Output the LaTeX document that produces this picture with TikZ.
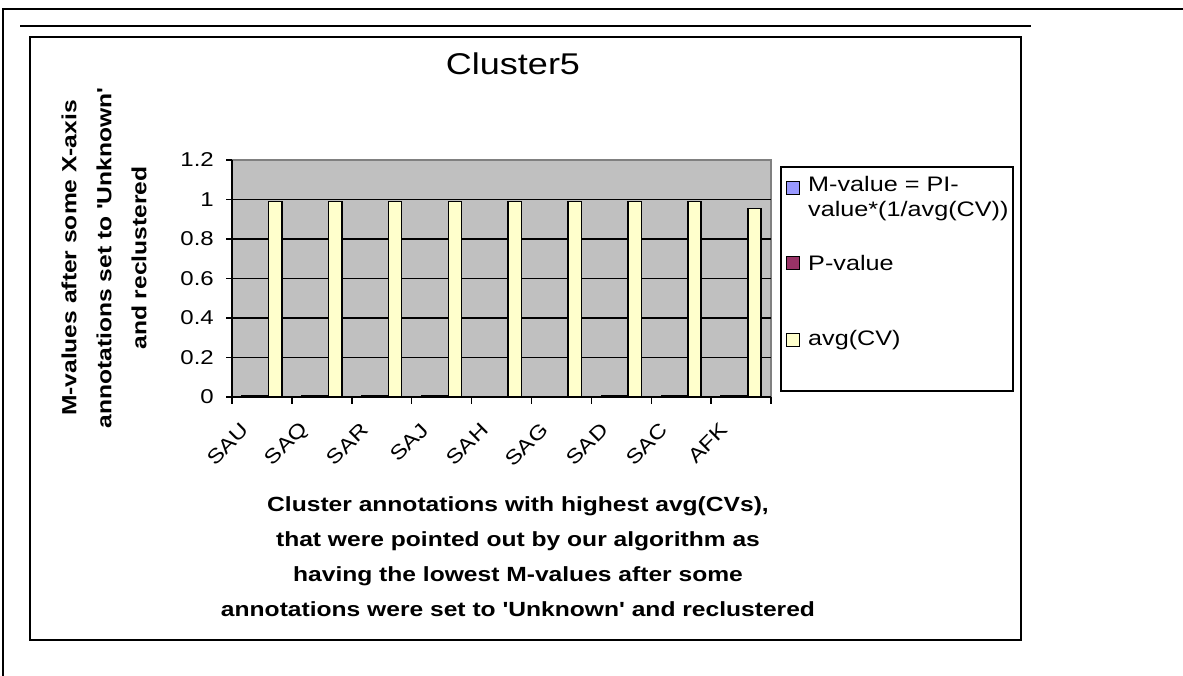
\documentclass[tikz,border=0pt]{standalone}
\usepackage{fontspec}
\newfontfamily\xlfont[FakeStretch=1.2]{Liberation Sans}
\definecolor{mblue}{HTML}{9999FF}
\definecolor{pplum}{HTML}{993366}
\definecolor{cvyellow}{HTML}{FFFFCC}
\definecolor{wallgray}{HTML}{C0C0C0}
\definecolor{edgegray}{HTML}{808080}
\tikzset{
  axtitle/.style={font=\xlfont\fontsize{20.5}{35}\selectfont\bfseries,align=center,inner sep=0pt},
  legtext/.style={font=\xlfont\fontsize{21}{25}\selectfont,anchor=west,align=left,inner sep=0pt},
  legkey/.style={draw=black,line width=1pt,minimum size=13pt,inner sep=0pt},
  colbar/.style={draw=black,line width=1.5pt},
}
\begin{document}
\begin{tikzpicture}[x=1pt,y=-1pt,every node/.style={font=\xlfont\fontsize{20}{24}\selectfont}]
\useasboundingbox (0,0) rectangle (1183,676);
% page rules and chart frame
\draw[line width=2pt] (3,676) -- (3,9) -- (1183,9);
\draw[line width=2pt] (20,26) -- (1031,26);
\draw[line width=2pt] (30,37) rectangle (1021,640);
\node (title) at (513,64) {\fontsize{30}{34}\selectfont Cluster5};
\begin{scope}[shift={(232,397)},x=59.9pt,y=197.5pt]
\fill[wallgray] (0,0) rectangle (9,1.2);
\draw[edgegray,line width=1.5pt] (0,1.2) -- (9,1.2) -- (9,0);
\foreach \v/\t in {0/0,0.2/0.2,0.4/0.4,0.6/0.6,0.8/0.8,1/1,1.2/1.2} {
  \draw[line width=1.5pt] (-0.1,\v) -- (0,\v);
  \node[anchor=east,inner sep=0pt] (ytick\t) at (-0.3,\v) {\t};
}
\foreach \v in {0,0.2,0.4,0.6,0.8,1} \draw[line width=1.5pt] (0,\v) -- (9,\v);
\draw[line width=1.5pt] (0,0) -- (0,1.2);
\foreach \i in {0,...,9} \draw[line width=1.5pt] (\i,0) -- (\i,-0.035);
% three series per category
\foreach \i/\m/\p/\c/\lab in {0/0.005/0.005/0.99/SAU,1/0.005/0.005/0.99/SAQ,2/0.005/0.005/0.99/SAR,
    3/0.005/0.005/0.99/SAJ,4/0/0/0.99/SAH,5/0/0/0.99/SAG,6/0.005/0.005/0.99/SAD,
    7/0.005/0.005/0.99/SAC,8/0.005/0.005/0.955/AFK} {
  \ifdim\m pt>0pt \draw[colbar,fill=mblue] (\i+0.1667,0) rectangle ++(0.2222,\m);\fi
  \ifdim\p pt>0pt \draw[colbar,fill=pplum] (\i+0.3889,0) rectangle ++(0.2222,\p);\fi
  \draw[colbar,fill=cvyellow] (\i+0.6111,0) rectangle ++(0.2222,\c);
  \node[rotate=45,anchor=east,inner sep=0pt] (cat\lab) at (\i+0.22,-0.15) {\lab};
}
\end{scope}
\node[axtitle,rotate=90] (ylab) at (104,258) {M-values after some X-axis\\annotations set to 'Unknown'\\and reclustered};
\node[axtitle] (xlab) at (518,557) {Cluster annotations with highest avg(CVs),\\that were pointed out by our algorithm as\\having the lowest M-values after some\\annotations were set to 'Unknown' and reclustered};
% legend
\draw[line width=1.5pt] (781,167) rectangle (1013,391);
\node[legkey,fill=mblue] (keyM) at (793,188) {};
\node[legtext] (legM) at (808,199) {M-value = PI-\\value*(1/avg(CV))};
\node[legkey,fill=pplum] (keyP) at (793,263) {};
\node[legtext] (legP) at (808,263) {P-value};
\node[legkey,fill=cvyellow] (keyC) at (793,340) {};
\node[legtext] (legC) at (808,340) {avg(CV)};
\end{tikzpicture}
\end{document}
